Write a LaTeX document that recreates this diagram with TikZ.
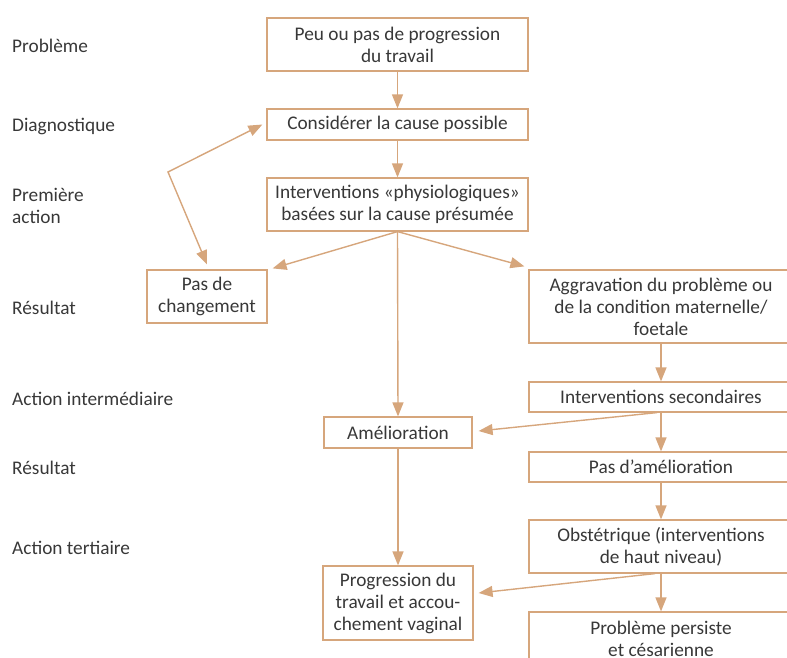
\documentclass[tikz,border=0pt]{standalone}
\usepackage{fontspec}
\setmainfont{Carlito}
\usetikzlibrary{arrows.meta,calc}
\definecolor{tan}{RGB}{214,166,124}
\definecolor{txt}{RGB}{56,56,56}
\begin{document}
\begin{tikzpicture}[x=1pt,y=-1pt,
  every node/.style={font=\fontsize{19.3}{22}\selectfont, text=txt},
  box/.style={draw=tan, line width=1.2pt, inner sep=0pt, align=center},
  lab/.style={anchor=west, align=left, inner sep=0pt},
  arr/.style={draw=tan, line width=1.4pt, -{Triangle[width=11pt,length=14pt]}},
  darr/.style={draw=tan, line width=1.4pt, {Triangle[width=11pt,length=14pt]}-{Triangle[width=11pt,length=14pt]}}]
\useasboundingbox (0,0) rectangle (787,658);
\clip (0,0) rectangle (787,658);
% left labels
\node[lab] (l1) at (12,46) {Problème};
\node[lab] (l2) at (12,126) {Diagnostique};
\node[lab] (l3) at (12,206) {Première\\action};
\node[lab] (l4) at (12,308) {Résultat};
\node[lab] (l5) at (12,399) {Action intermédiaire};
\node[lab] (l6) at (12,468) {Résultat};
\node[lab] (l7) at (12,548) {Action tertiaire};
% boxes
\node[box, minimum width=261pt, minimum height=53pt] (b1) at (397.5,44.5) {Peu ou pas de progression\\du travail};
\node[box, minimum width=261pt, minimum height=31pt] (b2) at (397.5,124.5) {Considérer la cause possible};
\node[box, minimum width=261pt, minimum height=53pt] (b3) at (397.5,204.5) {Interventions «physiologiques»\\basées sur la cause présumée};
\node[box, minimum width=120pt, minimum height=53pt] (b4) at (207,296.5) {Pas de\\changement};
\node[box, minimum width=264pt, minimum height=73pt] (b5) at (661,306.5) {Aggravation du problème ou\\de la condition maternelle/\\foetale};
\node[box, minimum width=264pt, minimum height=30pt] (b6) at (661,397) {Interventions secondaires};
\node[box, minimum width=148pt, minimum height=31pt] (b7) at (398,432.5) {Amélioration};
\node[box, minimum width=264pt, minimum height=30pt] (b8) at (661,467) {Pas d’amélioration};
\node[box, minimum width=264pt, minimum height=53pt] (b9) at (661,546.5) {Obstétrique (interventions\\de haut niveau)};
\node[box, minimum width=150pt, minimum height=74pt] (b10) at (398,603) {Progression du\\travail et accou-\\chement vaginal};
\node[box, minimum width=264pt, minimum height=53pt] (b11) at (661,638.5) {Problème persiste\\et césarienne};
% connectors
\coordinate (v) at (168,172);
\draw[arr] (b1.south) -- (b2.north);
\draw[arr] (b2.south) -- (b3.north);
\draw[arr] (b3.south) -- ([xshift=5pt,yshift=1pt]b4.north east);
\draw[arr] (b3.south) -- ([xshift=-4pt,yshift=3pt]b5.north west);
\draw[arr] (b3.south) -- (b7.north);
\draw[darr] ([yshift=5pt]b4.north) -- (v) -- ([xshift=-4pt]b2.west);
\draw[arr] (b5.south) -- (b6.north);
\draw[arr] (b6.south) -- (b8.north);
\draw[arr] ([xshift=-4pt]b6.south) -- ([xshift=6pt,yshift=1.5pt]b7.east);
\draw[arr] (b7.south) -- (b10.north);
\draw[arr] (b8.south) -- (b9.north);
\draw[arr] (b9.south) -- (b11.north);
\draw[arr] ([xshift=-6pt]b9.south) -- ([xshift=5pt,yshift=10pt]b10.east);
\end{tikzpicture}
\end{document}
